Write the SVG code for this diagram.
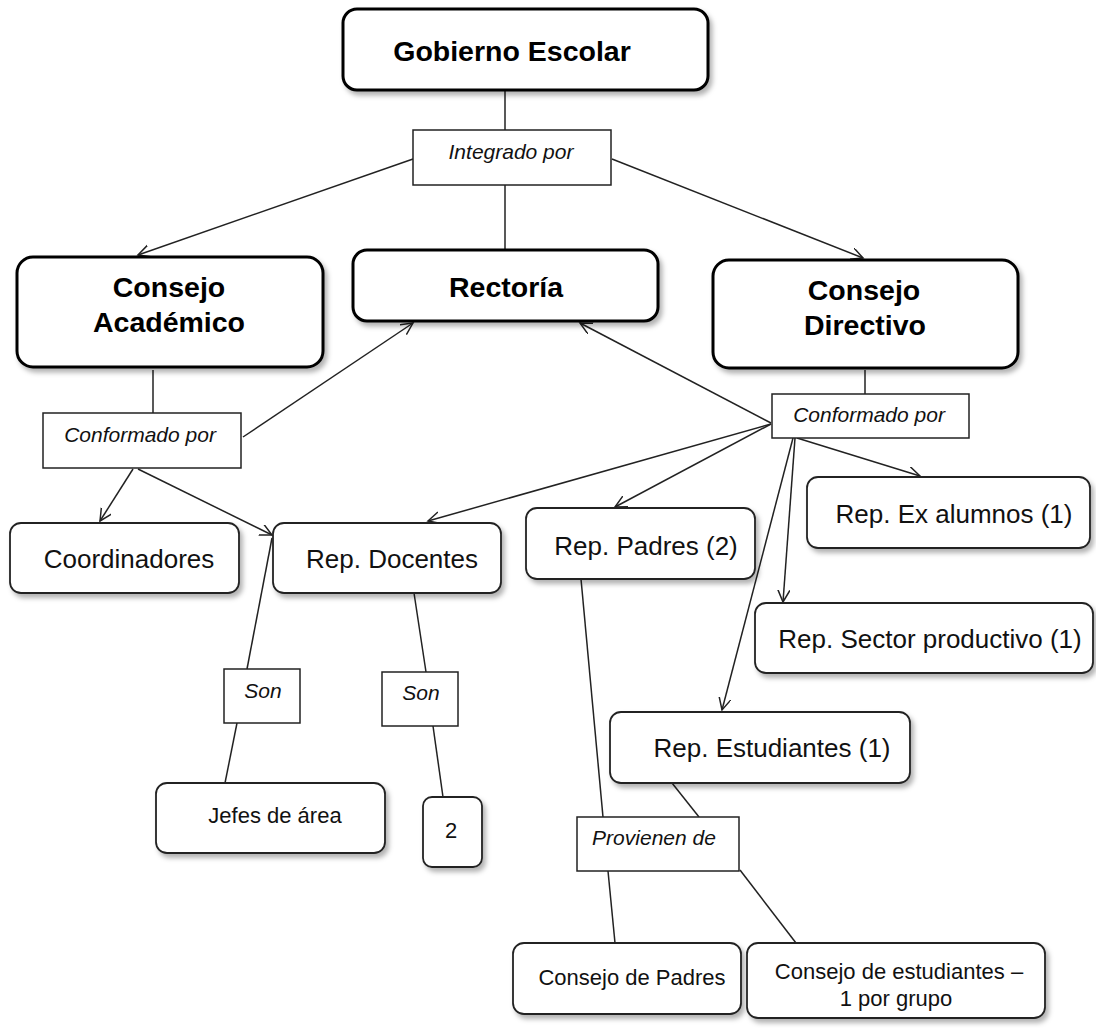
<svg xmlns="http://www.w3.org/2000/svg" width="1096" height="1028" viewBox="0 0 1096 1028">
<style>
.main{fill:#fff;stroke:#000;stroke-width:3;filter:url(#sh)}
.node{fill:#fff;stroke:#222;stroke-width:1.8;filter:url(#sh)}
.link{fill:#fff;stroke:#222;stroke-width:1.5}
.tb{font-family:"Liberation Sans",Arial,sans-serif;font-weight:bold;font-size:28.5px;fill:#000;text-anchor:middle}
.tr{font-family:"Liberation Sans",Arial,sans-serif;font-size:26px;fill:#111;text-anchor:middle}
.ts{font-family:"Liberation Sans",Arial,sans-serif;font-size:22px;fill:#111;text-anchor:middle}
.ti{font-family:"Liberation Sans",Arial,sans-serif;font-style:italic;font-size:21px;fill:#111;text-anchor:middle}
.c{stroke:#222;stroke-width:1.5;fill:none}
.a{marker-end:url(#arr)}
</style>
<defs>
<filter id="sh" x="-10%" y="-10%" width="130%" height="140%">
<feDropShadow dx="3" dy="4" stdDeviation="2.5" flood-color="#000" flood-opacity="0.3"/>
</filter>
<marker id="arr" markerUnits="userSpaceOnUse" markerWidth="14" markerHeight="14" refX="12" refY="6" orient="auto">
<path d="M0,0 L12,6 L0,12" fill="none" stroke="#222" stroke-width="1.5"/>
</marker>
</defs>
<rect width="1096" height="1028" fill="#fff"/>
<g id="connectors">
<line class="c" x1="505" y1="90" x2="505" y2="130"/>
<line class="c a" x1="413" y1="159" x2="138" y2="255"/>
<line class="c" x1="505" y1="185" x2="505" y2="250"/>
<line class="c a" x1="612" y1="159" x2="863" y2="258"/>
<line class="c" x1="153" y1="370" x2="153" y2="413"/>
<line class="c a" x1="243" y1="437" x2="413" y2="323"/>
<line class="c a" x1="133" y1="469" x2="100" y2="521"/>
<line class="c a" x1="138" y1="469" x2="272" y2="535"/>
<line class="c" x1="865" y1="370" x2="865" y2="394"/>
<line class="c a" x1="771" y1="423" x2="580" y2="323"/>
<line class="c a" x1="771" y1="424" x2="428" y2="521"/>
<line class="c a" x1="771" y1="424" x2="615" y2="507"/>
<line class="c a" x1="797" y1="438" x2="920" y2="476"/>
<line class="c a" x1="795" y1="438" x2="783" y2="602"/>
<line class="c a" x1="793" y1="438" x2="722" y2="710"/>
<line class="c" x1="272" y1="538" x2="247" y2="669"/>
<line class="c" x1="237" y1="723" x2="225" y2="783"/>
<line class="c" x1="414" y1="593" x2="426" y2="672"/>
<line class="c" x1="433" y1="726" x2="443" y2="797"/>
<line class="c" x1="581" y1="579" x2="603" y2="817"/>
<line class="c" x1="672" y1="783" x2="699" y2="817"/>
<line class="c" x1="608" y1="871" x2="615" y2="943"/>
<line class="c" x1="740" y1="870" x2="796" y2="943"/>
</g>
<g id="gobierno-escolar">
<rect class="main" x="343" y="9" width="365" height="81" rx="14"/>
<text class="tb" x="512" y="61">Gobierno Escolar</text>
</g>
<g id="integrado-por">
<rect class="link" x="413" y="130" width="198" height="55"/>
<text class="ti" x="511" y="159">Integrado por</text>
</g>
<g id="consejo-academico">
<rect class="main" x="17" y="257" width="306" height="110" rx="16"/>
<text class="tb" x="169" y="297">Consejo</text>
<text class="tb" x="169" y="332">Académico</text>
</g>
<g id="rectoria">
<rect class="main" x="353" y="250" width="305" height="71" rx="14"/>
<text class="tb" x="506" y="297">Rectoría</text>
</g>
<g id="consejo-directivo">
<rect class="main" x="713" y="260" width="305" height="108" rx="16"/>
<text class="tb" x="864" y="300">Consejo</text>
<text class="tb" x="865" y="335">Directivo</text>
</g>
<g id="conformado-por-1">
<rect class="link" x="43" y="413" width="198" height="55"/>
<text class="ti" x="140" y="442">Conformado por</text>
</g>
<g id="conformado-por-2">
<rect class="link" x="772" y="394" width="197" height="44"/>
<text class="ti" x="869" y="422">Conformado por</text>
</g>
<g id="coordinadores">
<rect class="node" x="10" y="523" width="229" height="70" rx="11"/>
<text class="tr" x="129" y="568">Coordinadores</text>
</g>
<g id="rep-docentes">
<rect class="node" x="273" y="523" width="228" height="70" rx="11"/>
<text class="tr" x="392" y="568">Rep. Docentes</text>
</g>
<g id="rep-padres">
<rect class="node" x="526" y="508" width="229" height="71" rx="11"/>
<text class="tr" x="646" y="555">Rep. Padres (2)</text>
</g>
<g id="rep-ex-alumnos">
<rect class="node" x="807" y="477" width="283" height="71" rx="11"/>
<text class="tr" x="954" y="523">Rep. Ex alumnos (1)</text>
</g>
<g id="rep-sector-productivo">
<rect class="node" x="755" y="603" width="338" height="70" rx="11"/>
<text class="tr" x="930" y="648">Rep. Sector productivo (1)</text>
</g>
<g id="rep-estudiantes">
<rect class="node" x="610" y="712" width="300" height="71" rx="11"/>
<text class="tr" x="772" y="757">Rep. Estudiantes (1)</text>
</g>
<g id="son-1">
<rect class="link" x="224" y="669" width="76" height="54"/>
<text class="ti" x="263" y="698">Son</text>
</g>
<g id="son-2">
<rect class="link" x="382" y="672" width="76" height="54"/>
<text class="ti" x="421" y="700">Son</text>
</g>
<g id="jefes-de-area">
<rect class="node" x="156" y="783" width="229" height="70" rx="11"/>
<text class="ts" x="275" y="823">Jefes de área</text>
</g>
<g id="dos">
<rect class="node" x="423" y="797" width="59" height="70" rx="9"/>
<text class="ts" x="451" y="838">2</text>
</g>
<g id="provienen-de">
<rect class="link" x="577" y="817" width="162" height="54"/>
<text class="ti" x="654" y="845">Provienen de</text>
</g>
<g id="consejo-de-padres">
<rect class="node" x="513" y="943" width="228" height="71" rx="11"/>
<text class="ts" x="632" y="985">Consejo de Padres</text>
</g>
<g id="consejo-de-estudiantes">
<rect class="node" x="747" y="943" width="298" height="75" rx="11"/>
<text class="ts" x="899" y="979">Consejo de estudiantes –</text>
<text class="ts" x="896" y="1006">1 por grupo</text>
</g>
</svg>
